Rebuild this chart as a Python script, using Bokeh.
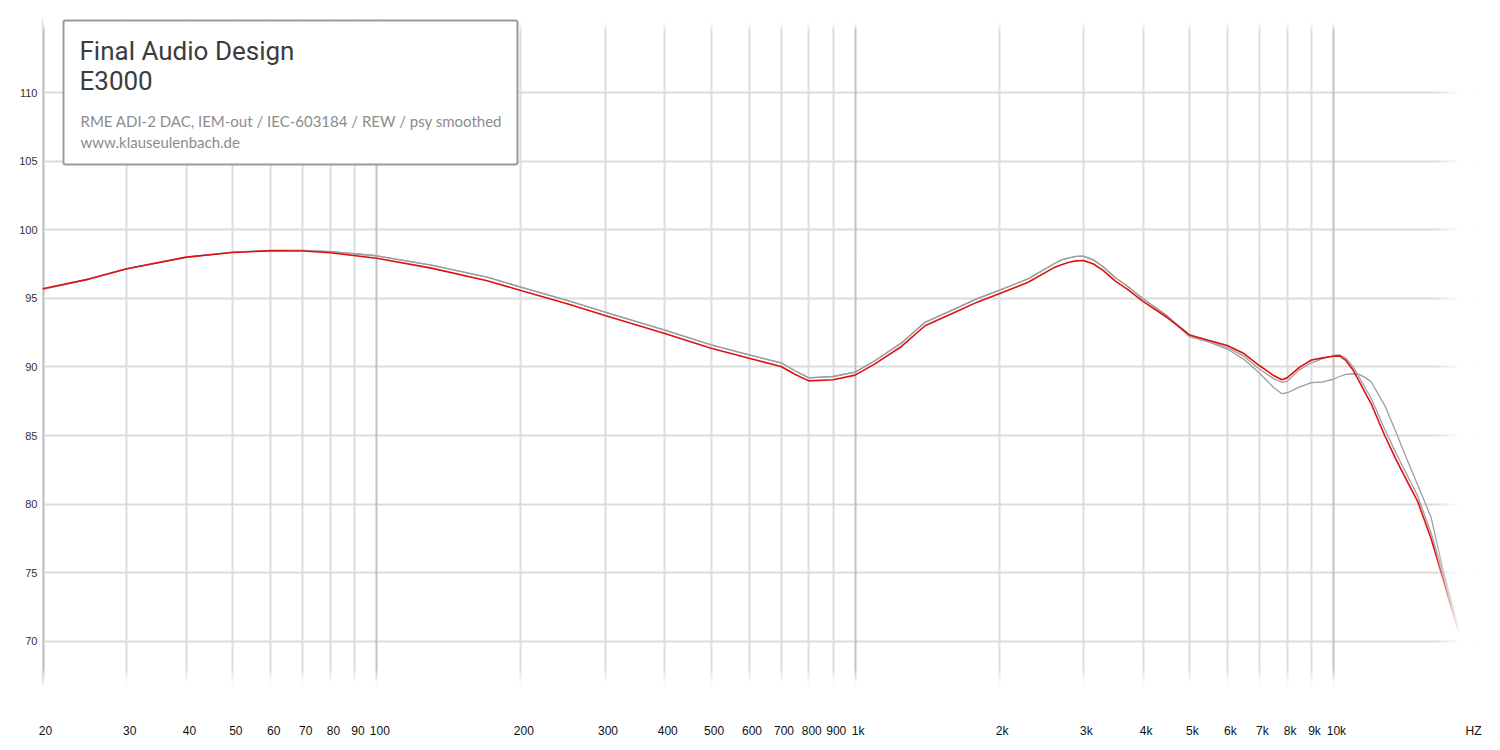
from bokeh.plotting import figure
from bokeh.models import FixedTicker, Grid, Span, Label, BoxAnnotation
from bokeh.embed import file_html
from bokeh.resources import INLINE

# ---------------- data ----------------
freqs = [20, 25, 30, 40, 50, 60, 70, 80, 100,
         130, 170, 200, 250, 300, 400, 500, 600, 700, 750,
         800, 900, 1000, 1100, 1250, 1400, 1600, 1800, 2000, 2300,
         2600, 2700, 2800, 2900, 3000, 3150, 3300, 3500, 3700, 4000,
         4500, 5000, 5500, 6000, 6500, 7000, 7500, 7800, 8000, 8500,
         9000, 9500, 10000, 10300, 10600, 11000, 11300, 11700, 12000, 12800,
         13500, 14000, 15000, 16000, 17000, 18000, 18300]

red_db = [95.7, 96.4, 97.15, 98.0, 98.34, 98.46, 98.45, 98.32, 97.92,
          97.2, 96.28, 95.57, 94.6, 93.75, 92.43, 91.36, 90.63, 90.03, 89.45,
          88.98, 89.06, 89.4, 90.22, 91.49, 93.0, 93.91, 94.72, 95.33, 96.17,
          97.22, 97.45, 97.63, 97.73, 97.76, 97.5, 97.03, 96.25, 95.69, 94.77,
          93.58, 92.33, 91.92, 91.56, 90.97, 90.1, 89.37, 89.06, 89.2, 89.98,
          90.5, 90.66, 90.78, 90.8, 90.5, 89.75, 89.0, 88.0, 87.3, 85.0,
          83.3, 82.2, 80.2, 77.5, 74.4, 71.4, 70.7]

gray_a_db = [95.65, 96.4, 97.15, 98.0, 98.36, 98.5, 98.5, 98.4, 98.1,
             97.42, 96.55, 95.82, 94.85, 94.0, 92.68, 91.6, 90.88, 90.3, 89.7,
             89.2, 89.3, 89.62, 90.45, 91.75, 93.25, 94.15, 94.97, 95.58, 96.42,
             97.5, 97.8, 97.95, 98.05, 98.08, 97.8, 97.3, 96.5, 95.92, 94.97,
             93.7, 92.35, 91.87, 91.42, 90.78, 89.85, 89.15, 88.88, 88.95, 89.8,
             90.3, 90.6, 90.83, 90.88, 90.65, 90.0, 89.3, 88.35, 87.7, 85.45,
             83.75, 82.65, 80.6, 77.9, 74.8, 71.7, 70.9]

gray_b_db = [95.65, 96.4, 97.15, 98.0, 98.36, 98.5, 98.5, 98.4, 98.1,
             97.42, 96.55, 95.82, 94.85, 94.0, 92.68, 91.6, 90.88, 90.3, 89.7,
             89.2, 89.3, 89.62, 90.45, 91.75, 93.25, 94.15, 94.97, 95.58, 96.42,
             97.5, 97.8, 97.95, 98.05, 98.08, 97.8, 97.3, 96.5, 95.92, 94.97,
             93.7, 92.2, 91.8, 91.3, 90.55, 89.55, 88.5, 88.05, 88.1, 88.55,
             88.85, 88.9, 89.1, 89.3, 89.45, 89.5, 89.45, 89.2, 88.9, 87.2,
             85.3, 83.9, 81.4, 79.05, 75.0, 71.9, 70.9]

x_minor_grid = [30, 40, 50, 60, 70, 80, 90, 200, 300, 400, 500, 600, 700, 800, 900,
                2000, 3000, 4000, 5000, 6000, 7000, 8000, 9000]
x_major_grid = [100, 1000, 10000]
x_tick_values = [20, 30, 40, 50, 60, 70, 80, 90, 100, 200, 300, 400, 500, 600, 700, 800, 900,
                 1000, 2000, 3000, 4000, 5000, 6000, 7000, 8000, 9000, 10000, 19350]
x_tick_labels = ["20", "30", "40", "50", "60", "70", "80", "90", "100", "200", "300", "400",
                 "500", "600", "700", "800", "900", "1k", "2k", "3k", "4k", "5k", "6k", "7k",
                 "8k", "9k", "10k", "HZ"]
y_tick_values = [70, 75, 80, 85, 90, 95, 100, 105, 110]

title_1 = "Final Audio Design"
title_2 = "E3000"
sub_1 = "RME ADI-2 DAC, IEM-out / IEC-603184 / REW / psy smoothed"
sub_2 = "www.klauseulenbach.de"

# ---------------- layout helpers (picture pixel -> data) ----------------
PX_20HZ = 42.0
PX_DECADE = 478.3
PY_110 = 92.0
PX_PER_DB = 13.72

def fx(px):
    return 20.0 * 10 ** ((px - PX_20HZ) / PX_DECADE)

def fy(py):
    return 110.0 - (py - PY_110) / PX_PER_DB

W, H = 1500, 750
FRAME_L, FRAME_R, FRAME_T, FRAME_B = 42, 1477, 18, 685

p = figure(x_axis_type="log",
           x_range=(fx(FRAME_L), fx(FRAME_R)), y_range=(fy(FRAME_B), fy(FRAME_T)),
           frame_width=FRAME_R - FRAME_L, frame_height=FRAME_B - FRAME_T,
           min_border_left=FRAME_L, min_border_right=W - FRAME_R,
           min_border_top=FRAME_T, min_border_bottom=H - FRAME_B,
           output_backend="svg", toolbar_location=None,
           background_fill_color="white", border_fill_color="white")
p.outline_line_color = None

# grids
p.xgrid.ticker = FixedTicker(ticks=x_minor_grid)
p.xgrid.grid_line_color = "#dcdcdc"
p.xgrid.grid_line_width = 2
p.ygrid.ticker = FixedTicker(ticks=y_tick_values)
p.ygrid.grid_line_color = "#dcdcdc"
p.ygrid.grid_line_width = 2
p.add_layout(Grid(dimension=0, ticker=FixedTicker(ticks=x_major_grid),
                  grid_line_color="#c2c2c2", grid_line_width=2))
p.add_layout(Span(location=20, dimension="height", line_color="#d6d6d6", line_width=5, level="underlay"))
p.add_layout(Span(location=20, dimension="height", line_color="#b8b8b8", line_width=2, level="underlay"))

# curves
p.line(freqs, gray_b_db, line_color="#9e9e9e", line_width=1.3)
p.line(freqs, gray_a_db, line_color="#9e9e9e", line_width=1.3)
p.line(freqs, red_db, line_color="#dd1111", line_width=1.6)

# fade overlays (white gradients)
N = 14
ylo, yhi = fy(FRAME_B), fy(FRAME_T)
xlo, xhi = fx(FRAME_L), fx(FRAME_R)
fa, fb = 1434, 1461
for i in range(N):
    a0 = fa + (fb - fa) * i / N
    a1 = fa + (fb - fa) * (i + 1) / N
    p.quad(left=fx(a0), right=fx(a1 + 0.3), bottom=ylo, top=yhi,
           fill_color="white", fill_alpha=(i + 1) / N, line_color=None)
p.quad(left=fx(fb), right=xhi, bottom=ylo, top=yhi, fill_color="white", line_color=None)
ba, bb = 668, 685
for i in range(N):
    b0 = ba + (bb - ba) * i / N
    b1 = ba + (bb - ba) * (i + 1) / N
    p.quad(left=xlo, right=xhi, top=fy(b0), bottom=fy(b1 + 0.3),
           fill_color="white", fill_alpha=(i + 1) / N, line_color=None)
ta, tb = 30, 22
p.quad(left=xlo, right=xhi, top=yhi, bottom=fy(tb), fill_color="white", line_color=None)
for i in range(N):
    t0 = ta + (tb - ta) * i / N
    t1 = ta + (tb - ta) * (i + 1) / N
    p.quad(left=xlo, right=xhi, bottom=fy(t0), top=fy(t1 - 0.3),
           fill_color="white", fill_alpha=(i + 1) / N, line_color=None)

# x axis (labels only, set 3px right of the grid lines as in the picture)
shift = 10 ** (3 / PX_DECADE)
x_label_pos = [v * shift for v in x_tick_values]
p.xaxis.ticker = FixedTicker(ticks=x_label_pos)
p.xaxis.major_label_overrides = {v: s for v, s in zip(x_label_pos, x_tick_labels)}
p.xaxis.axis_line_color = None
p.xaxis.major_tick_line_color = None
p.xaxis.minor_tick_line_color = None
p.xaxis.major_tick_out = 0
p.xaxis.major_tick_in = 0
p.xaxis.major_label_standoff = 38
p.xaxis.major_label_text_font = "Liberation Sans"
p.xaxis.major_label_text_font_size = "12px"
p.xaxis.major_label_text_color = "#111111"

# y axis (labels only)
p.yaxis.ticker = FixedTicker(ticks=y_tick_values)
p.yaxis.axis_line_color = None
p.yaxis.major_tick_line_color = None
p.yaxis.minor_tick_line_color = None
p.yaxis.major_tick_out = 0
p.yaxis.major_tick_in = 0
p.yaxis.major_label_standoff = 5
p.yaxis.major_label_text_font = "Liberation Sans"
p.yaxis.major_label_text_font_size = "11px"
p.yaxis.major_label_text_color = "#333333"

# info box
p.add_layout(BoxAnnotation(left=fx(63), right=fx(517), top=fy(20), bottom=fy(164),
                           fill_color="white", fill_alpha=1.0, line_color="#9a9a9a",
                           line_width=2, line_alpha=1.0, border_radius=2))
p.add_layout(Label(x=fx(79), y=fy(50), text=title_1, text_baseline="alphabetic",
                   text_font="Roboto", text_font_size="26px", text_color="#3c3c3c"))
p.add_layout(Label(x=fx(79), y=fy(80), text=title_2, text_baseline="alphabetic",
                   text_font="Roboto", text_font_size="26px", text_color="#3c3c3c"))
p.add_layout(Label(x=fx(80), y=fy(120), text=sub_1, text_baseline="alphabetic",
                   text_font="Lato", text_font_size="15px", text_color="#8c8c8c"))
p.add_layout(Label(x=fx(80), y=fy(141), text=sub_2, text_baseline="alphabetic",
                   text_font="Lato", text_font_size="15px", text_color="#8c8c8c"))

open("out.html", "w").write(file_html(p, INLINE))
